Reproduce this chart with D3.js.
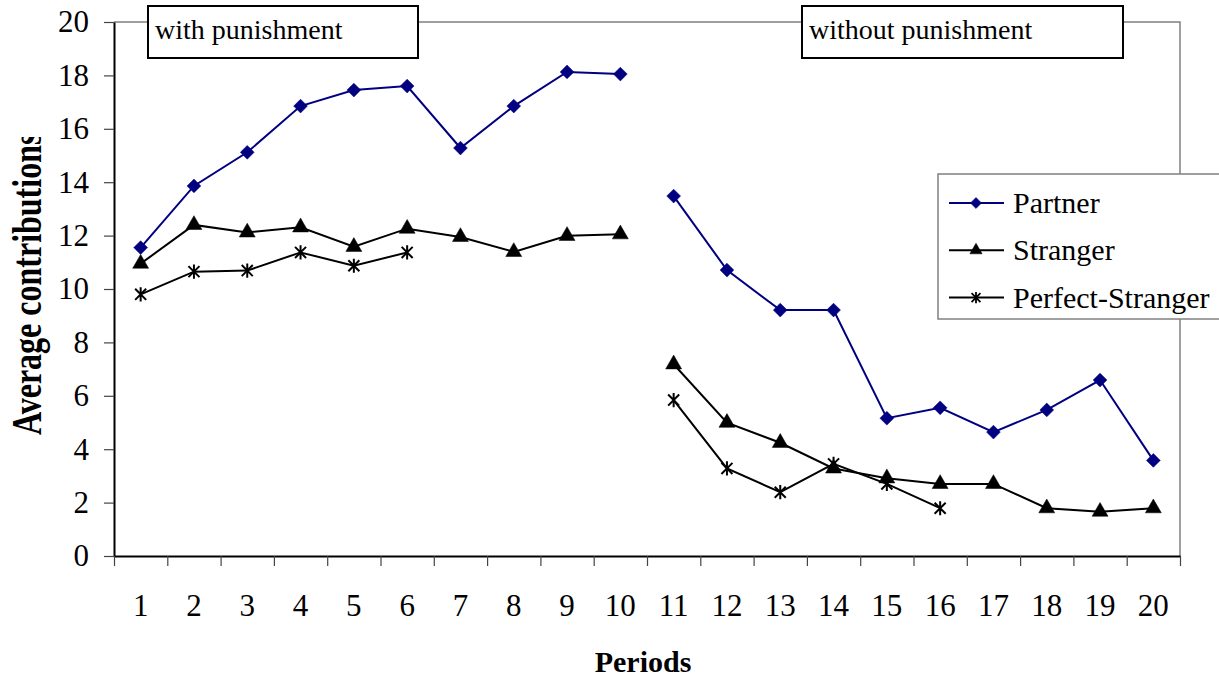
<!DOCTYPE html>
<html lang="en">
<head>
    <meta charset="UTF-8">
    <title>Average contributions</title>
    <script src="https://cdn.jsdelivr.net/npm/d3@7"></script>
    <style>
        body { margin: 0; background: #fff; }
        text { font-family: "Liberation Serif", "Times New Roman", serif; fill: #000; }
    </style>
</head>
<body>
<svg id="chart" width="1219" height="680"></svg>
<script>
    // values
    var periods = [1, 2, 3, 4, 5, 6, 7, 8, 9, 10, 11, 12, 13, 14, 15, 16, 17, 18, 19, 20];
    var partner = [11.55, 13.86, 15.12, 16.85, 17.45, 17.6, 15.28, 16.85, 18.13, 18.05,
        13.48, 10.71, 9.21, 9.21, 5.16, 5.55, 4.64, 5.47, 6.59, 3.58];
    var stranger = [10.95, 12.4, 12.12, 12.31, 11.58, 12.26, 11.95, 11.39, 11.99, 12.05,
        7.18, 4.99, 4.24, 3.28, 2.91, 2.7, 2.7, 1.79, 1.66, 1.79];
    var perfectStranger = [9.8, 10.65, 10.69, 11.37, 10.87, 11.37, null, null, null, null,
        5.84, 3.28, 2.39, 3.45, 2.7, 1.79, null, null, null, null];
    var phases = [[1, 10], [11, 20]];
    var phaseLabels = ["with punishment", "without punishment"];
    var yTicks = [0, 2, 4, 6, 8, 10, 12, 14, 16, 18, 20];
    var seriesNames = ["Partner", "Stranger", "Perfect-Stranger"];

    var plotLeft = 114, plotRight = 1180, plotTop = 22, plotBottom = 556;
    var svg = d3.select("#chart");

    var x = d3.scaleBand().domain(periods).range([plotLeft, plotRight]).padding(0);
    var xEdge = d3.scaleLinear().domain([0, periods.length]).range([plotLeft, plotRight]);
    var y = d3.scaleLinear().domain([0, 20]).range([plotBottom, plotTop]);

    // excel style star marker: vertical bar plus an x
    var starSymbol = {
        draw: function (ctx, size) {
            var r = Math.sqrt(size) / 2;
            var d = r * 0.78;
            ctx.moveTo(0, -r);
            ctx.lineTo(0, r);
            ctx.moveTo(-d, -d);
            ctx.lineTo(d, d);
            ctx.moveTo(-d, d);
            ctx.lineTo(d, -d);
        }
    };

    var series = [
        {name: seriesNames[0], values: partner, color: "#000080", symbol: d3.symbolSquare, size: 95, legendSize: 60, rotate: 45, fill: true},
        {name: seriesNames[1], values: stranger, color: "#000", symbol: d3.symbolTriangle, size: 110, legendSize: 65, rotate: 0, fill: true},
        {name: seriesNames[2], values: perfectStranger, color: "#000", symbol: starSymbol, size: 200, legendSize: 130, rotate: 0, fill: false}
    ];

    //frame
    svg.append("path")
        .attr("d", "M" + plotLeft + "," + plotTop + "H" + plotRight + "V" + plotBottom)
        .attr("fill", "none")
        .attr("stroke", "#808080")
        .attr("stroke-width", 1.5);

    //y axis
    var gy = svg.append("g")
        .attr("transform", "translate(" + plotLeft + ",0)")
        .call(d3.axisLeft(y).tickValues(yTicks).tickSize(10).tickSizeOuter(0).tickPadding(15));
    gy.select(".domain").attr("stroke", "#000").attr("stroke-width", 2);
    gy.selectAll(".tick line").attr("stroke", "#444").attr("stroke-width", 1.2);
    gy.selectAll(".tick text").style("font-size", "31px").attr("fill", "#000");

    //x axis labels (centered in bands) and ticks on band edges
    var gx = svg.append("g")
        .attr("transform", "translate(0," + plotBottom + ")")
        .call(d3.axisBottom(x).tickSize(0).tickSizeOuter(0).tickPadding(38));
    gx.select(".domain").remove();
    gx.selectAll(".tick text").style("font-size", "31px").attr("fill", "#000");

    var gxEdge = svg.append("g")
        .attr("transform", "translate(0," + plotBottom + ")")
        .call(d3.axisBottom(xEdge).tickValues(d3.range(periods.length + 1)).tickFormat("").tickSize(10).tickSizeOuter(0));
    gxEdge.select(".domain").attr("stroke", "#000").attr("stroke-width", 2);
    gxEdge.selectAll(".tick line").attr("stroke", "#444").attr("stroke-width", 1.2);

    //lines, broken between the two phases
    var line = d3.line()
        .defined(function (d) { return d.v != null; })
        .x(function (d) { return x(d.p) + x.bandwidth() / 2; })
        .y(function (d) { return y(d.v); });

    series.forEach(function (s) {
        var pts = periods.map(function (p, i) { return {p: p, v: s.values[i]}; });
        phases.forEach(function (ph) {
            var part = pts.filter(function (d) { return d.p >= ph[0] && d.p <= ph[1]; });
            svg.append("path")
                .datum(part)
                .attr("d", line)
                .attr("fill", "none")
                .attr("stroke", s.color)
                .attr("stroke-width", 2);
        });
        svg.append("g").selectAll("path")
            .data(pts.filter(function (d) { return d.v != null; }))
            .enter().append("path")
            .attr("transform", function (d) {
                return "translate(" + (x(d.p) + x.bandwidth() / 2) + "," + y(d.v) + ") rotate(" + s.rotate + ")";
            })
            .attr("d", d3.symbol().type(s.symbol).size(s.size))
            .attr("fill", s.fill ? s.color : "none")
            .attr("stroke", s.color)
            .attr("stroke-width", s.fill ? 0.5 : 2);
    });

    //phase boxes
    var boxes = [{x: 148, w: 270}, {x: 802, w: 321}];
    boxes.forEach(function (b, i) {
        svg.append("rect")
            .attr("x", b.x).attr("y", 6)
            .attr("width", b.w).attr("height", 52)
            .attr("fill", "#fff")
            .attr("stroke", "#000")
            .attr("stroke-width", 2);
        svg.append("text")
            .attr("x", b.x + 7).attr("y", 39)
            .style("font-size", "28px")
            .text(phaseLabels[i]);
    });

    //legend
    var lg = svg.append("g").attr("transform", "translate(938,174)");
    lg.append("rect")
        .attr("width", 300).attr("height", 145)
        .attr("fill", "#fff")
        .attr("stroke", "#808080")
        .attr("stroke-width", 1.5);
    series.forEach(function (s, i) {
        var ly = 29 + i * 47.3;
        lg.append("line")
            .attr("x1", 11).attr("x2", 66)
            .attr("y1", ly).attr("y2", ly)
            .attr("stroke", s.color).attr("stroke-width", 2);
        lg.append("path")
            .attr("transform", "translate(38," + ly + ") rotate(" + s.rotate + ")")
            .attr("d", d3.symbol().type(s.symbol).size(s.legendSize))
            .attr("fill", s.fill ? s.color : "none")
            .attr("stroke", s.color)
            .attr("stroke-width", s.fill ? 0.5 : 1.8);
        lg.append("text")
            .attr("x", 75).attr("y", ly + 10)
            .style("font-size", "30px")
            .text(s.name);
    });

    //axis titles
    svg.append("text")
        .attr("x", (plotLeft + plotRight) / 2 - 4).attr("y", 672)
        .attr("text-anchor", "middle")
        .style("font-size", "30px").style("font-weight", "bold")
        .text("Periods");

    svg.append("clipPath").attr("id", "ytitleClip")
        .append("rect").attr("x", 0).attr("y", 137).attr("width", 80).attr("height", 500);
    svg.append("g").attr("clip-path", "url(#ytitleClip)")
        .append("text")
        .attr("transform", "translate(41,435) rotate(-90) scale(1,1.35)")
        .style("font-size", "32px").style("font-weight", "bold")
        .text("Average contributions");
</script>
</body>
</html>
